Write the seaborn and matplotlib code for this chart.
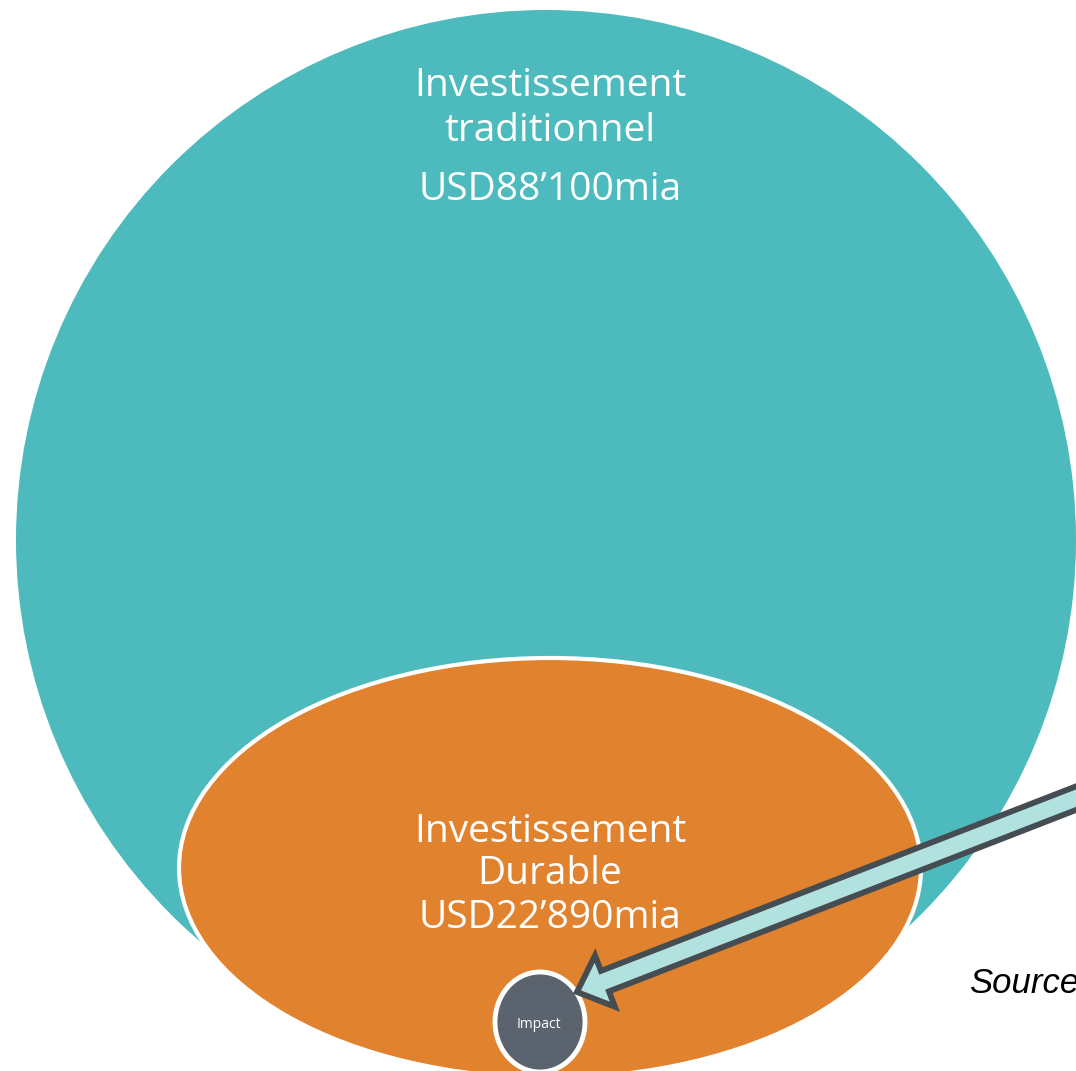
import matplotlib
matplotlib.use("Agg")
import matplotlib.pyplot as plt
import seaborn as sns
from matplotlib.patches import Circle, Ellipse, FancyArrow

# -----------------------------
# DATA
# -----------------------------
segments = ["Investissement\ntraditionnel", "Investissement\nDurable", "Impact"]
amounts_bn = [88100, 22890]
amount_labels = ["USD88\u2019100mia", "USD22\u2019890mia"]
source_label = "Source"

# -----------------------------
# STYLE
# -----------------------------
sns.set_theme(style="white")
plt.rcParams["font.family"] = ["Open Sans", "DejaVu Sans"]

teal = "#4DBBBD"
orange = "#E0822E"
grey = "#5B646E"
arrow_fill = "#B2E2E0"
arrow_edge = "#454C52"

W, H = 1076, 1071
fig = plt.figure(figsize=(W / 100, H / 100), dpi=100)
ax = fig.add_axes([0, 0, 1, 1])
ax.set_xlim(0, W)
ax.set_ylim(H, 0)
ax.set_aspect("equal")
ax.axis("off")

# -----------------------------
# SHAPES
# -----------------------------
ax.add_patch(Circle((546, 540), 530, facecolor=teal, edgecolor="none", zorder=1))
ax.add_patch(Ellipse((550, 868), 742, 420, facecolor=orange, edgecolor="white",
                     linewidth=3, zorder=2))
ax.add_patch(Ellipse((540, 1022), 90, 100, facecolor=grey, edgecolor="white",
                     linewidth=3.5, zorder=3))

tip = (577, 992)
tail = (1200, 750)
ax.add_patch(FancyArrow(tail[0], tail[1], tip[0] - tail[0], tip[1] - tail[1],
                        width=22, head_width=55, head_length=30,
                        length_includes_head=True, facecolor=arrow_fill,
                        edgecolor=arrow_edge, linewidth=4.2, zorder=4))

# -----------------------------
# TEXT
# -----------------------------
top_lines = segments[0].split("\n")
ax.text(550, 96, top_lines[0], color="white", fontsize=28, ha="center", va="baseline", zorder=5)
ax.text(550, 141, top_lines[1], color="white", fontsize=28, ha="center", va="baseline", zorder=5)
ax.text(550, 200, amount_labels[0], color="white", fontsize=28, ha="center", va="baseline", zorder=5)

mid_lines = segments[1].split("\n")
ax.text(550, 842, mid_lines[0], color="white", fontsize=28, ha="center", va="baseline", zorder=5)
ax.text(550, 884, mid_lines[1], color="white", fontsize=28, ha="center", va="baseline", zorder=5)
ax.text(550, 928, amount_labels[1], color="white", fontsize=28, ha="center", va="baseline", zorder=5)

ax.text(539, 1028, segments[2], color="white", fontsize=10, ha="center", va="baseline", zorder=5)

ax.text(969, 993, source_label, color="black", fontsize=25, style="italic",
        family=["Liberation Sans", "DejaVu Sans"], ha="left", va="baseline", zorder=5)

fig.savefig("out.png", dpi=100)
plt.close(fig)
